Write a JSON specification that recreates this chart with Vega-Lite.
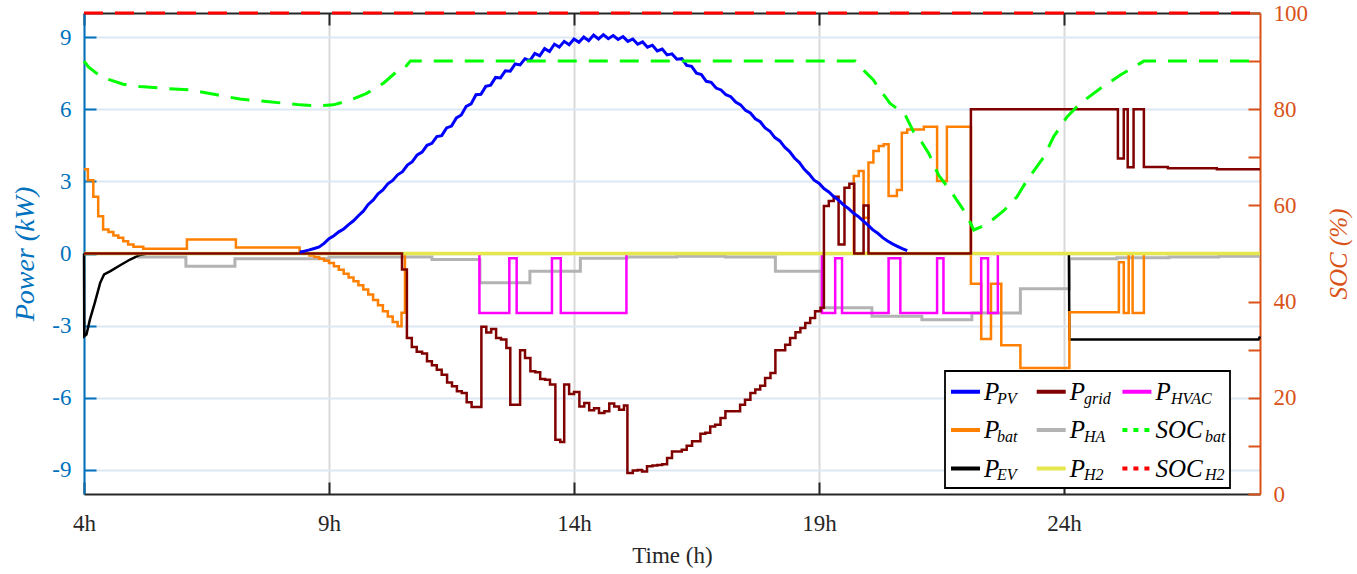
{
  "$schema": "https://vega.github.io/schema/vega-lite/v6.json",
  "width": 1176,
  "height": 481,
  "autosize": {"type": "none"},
  "padding": {"left": 84, "top": 13, "right": 97, "bottom": 80},
  "background": "white",
  "config": {"view": {"stroke": null}, "font": "Liberation Serif"},
  "datasets": {
    "power": [
      {"s":"HA","t":4.0,"v":0},{"s":"HA","t":5.12,"v":-0.15},{"s":"HA","t":6.08,"v":-0.53},{"s":"HA","t":7.08,"v":-0.22},{"s":"HA","t":9.0,"v":-0.15},{"s":"HA","t":11.1,"v":-0.25},{"s":"HA","t":12.08,"v":-1.22},{"s":"HA","t":13.1,"v":-0.74},{"s":"HA","t":14.13,"v":-0.2},{"s":"HA","t":15.08,"v":-0.15},{"s":"HA","t":16.1,"v":-0.11},{"s":"HA","t":17.09,"v":-0.15},{"s":"HA","t":18.11,"v":-0.74},{"s":"HA","t":19.06,"v":-2.26},{"s":"HA","t":20.08,"v":-2.61},{"s":"HA","t":21.1,"v":-2.75},{"s":"HA","t":22.12,"v":-2.47},{"s":"HA","t":23.11,"v":-1.47},{"s":"HA","t":24.11,"v":-0.22},{"s":"HA","t":25.08,"v":-0.18},{"s":"HA","t":26.14,"v":-0.15},{"s":"HA","t":27.16,"v":-0.11},{"s":"HA","t":28.0,"v":-0.11},

      {"s":"EV","t":4.0,"v":0},{"s":"EV","t":4.005,"v":-3.44},{"s":"EV","t":4.05,"v":-3.37},{"s":"EV","t":4.12,"v":-2.75},{"s":"EV","t":4.22,"v":-2.05},{"s":"EV","t":4.33,"v":-1.22},{"s":"EV","t":4.41,"v":-0.87},{"s":"EV","t":4.53,"v":-0.74},{"s":"EV","t":4.73,"v":-0.5},{"s":"EV","t":4.94,"v":-0.25},{"s":"EV","t":5.14,"v":-0.06},{"s":"EV","t":5.3,"v":0},{"s":"EV","t":24.1,"v":0},{"s":"EV","t":24.11,"v":-3.58},{"s":"EV","t":27.97,"v":-3.58},{"s":"EV","t":28.0,"v":-3.45},

      {"s":"bat","t":4.0,"v":3.5},{"s":"bat","t":4.08,"v":3.05},{"s":"bat","t":4.19,"v":2.36},{"s":"bat","t":4.29,"v":1.55},{"s":"bat","t":4.39,"v":1.0},{"s":"bat","t":4.5,"v":0.89},{"s":"bat","t":4.6,"v":0.75},{"s":"bat","t":4.7,"v":0.65},{"s":"bat","t":4.8,"v":0.51},{"s":"bat","t":4.9,"v":0.37},{"s":"bat","t":5.01,"v":0.28},{"s":"bat","t":5.21,"v":0.2},{"s":"bat","t":6.1,"v":0.58},{"s":"bat","t":7.1,"v":0.25},{"s":"bat","t":8.4,"v":0.08},{"s":"bat","t":8.5,"v":0.0},{"s":"bat","t":8.6,"v":-0.08},{"s":"bat","t":8.7,"v":-0.15},{"s":"bat","t":8.8,"v":-0.22},{"s":"bat","t":8.9,"v":-0.3},{"s":"bat","t":9.0,"v":-0.39},{"s":"bat","t":9.1,"v":-0.53},{"s":"bat","t":9.2,"v":-0.68},{"s":"bat","t":9.3,"v":-0.84},{"s":"bat","t":9.4,"v":-1.0},{"s":"bat","t":9.5,"v":-1.15},{"s":"bat","t":9.6,"v":-1.32},{"s":"bat","t":9.7,"v":-1.5},{"s":"bat","t":9.8,"v":-1.7},{"s":"bat","t":9.9,"v":-1.93},{"s":"bat","t":10.0,"v":-2.15},{"s":"bat","t":10.1,"v":-2.4},{"s":"bat","t":10.2,"v":-2.62},{"s":"bat","t":10.3,"v":-2.85},{"s":"bat","t":10.4,"v":-3.02},{"s":"bat","t":10.48,"v":-2.46},{"s":"bat","t":10.55,"v":0},{"s":"bat","t":19.71,"v":3.22},{"s":"bat","t":19.81,"v":3.43},{"s":"bat","t":19.91,"v":1.49},{"s":"bat","t":20.01,"v":3.78},{"s":"bat","t":20.11,"v":4.26},{"s":"bat","t":20.22,"v":4.47},{"s":"bat","t":20.32,"v":4.54},{"s":"bat","t":20.42,"v":2.39},{"s":"bat","t":20.59,"v":2.64},{"s":"bat","t":20.69,"v":5.02},{"s":"bat","t":20.8,"v":5.16},{"s":"bat","t":21.14,"v":5.27},{"s":"bat","t":21.41,"v":3.01},{"s":"bat","t":21.61,"v":5.27},{"s":"bat","t":22.1,"v":-1.26},{"s":"bat","t":22.31,"v":-3.55},{"s":"bat","t":22.51,"v":-1.26},{"s":"bat","t":22.72,"v":-3.82},{"s":"bat","t":23.11,"v":-4.76},{"s":"bat","t":24.11,"v":-2.44},{"s":"bat","t":25.12,"v":-0.36},{"s":"bat","t":25.22,"v":-2.47},{"s":"bat","t":25.32,"v":0},{"s":"bat","t":25.4,"v":-2.47},{"s":"bat","t":25.63,"v":0},{"s":"bat","t":28.0,"v":0},

      {"s":"HVAC","t":4.0,"v":0},{"s":"HVAC","t":12.07,"v":-2.47},{"s":"HVAC","t":12.68,"v":-0.2},{"s":"HVAC","t":12.83,"v":-2.47},{"s":"HVAC","t":13.55,"v":-0.2},{"s":"HVAC","t":13.73,"v":-2.47},{"s":"HVAC","t":15.07,"v":0},{"s":"HVAC","t":19.06,"v":-2.47},{"s":"HVAC","t":19.33,"v":-0.2},{"s":"HVAC","t":19.47,"v":-2.47},{"s":"HVAC","t":20.42,"v":-0.2},{"s":"HVAC","t":20.66,"v":-2.47},{"s":"HVAC","t":21.41,"v":-0.2},{"s":"HVAC","t":21.54,"v":-2.47},{"s":"HVAC","t":22.31,"v":-0.2},{"s":"HVAC","t":22.45,"v":-2.47},{"s":"HVAC","t":22.65,"v":0},{"s":"HVAC","t":28.0,"v":0},

      {"s":"H2","t":4.0,"v":0},{"s":"H2","t":28.0,"v":0},

      {"s":"grid","t":4.0,"v":0},{"s":"grid","t":10.49,"v":-0.67},{"s":"grid","t":10.59,"v":-3.51},{"s":"grid","t":10.69,"v":-3.89},{"s":"grid","t":10.79,"v":-4.09},{"s":"grid","t":10.9,"v":-4.16},{"s":"grid","t":11.0,"v":-4.48},{"s":"grid","t":11.1,"v":-4.65},{"s":"grid","t":11.2,"v":-4.83},{"s":"grid","t":11.3,"v":-5.04},{"s":"grid","t":11.41,"v":-5.36},{"s":"grid","t":11.51,"v":-5.52},{"s":"grid","t":11.61,"v":-5.73},{"s":"grid","t":11.71,"v":-5.8},{"s":"grid","t":11.81,"v":-6.19},{"s":"grid","t":11.91,"v":-6.38},{"s":"grid","t":12.11,"v":-3.05},{"s":"grid","t":12.21,"v":-3.28},{"s":"grid","t":12.31,"v":-3.14},{"s":"grid","t":12.41,"v":-3.51},{"s":"grid","t":12.51,"v":-3.58},{"s":"grid","t":12.62,"v":-3.93},{"s":"grid","t":12.7,"v":-6.29},{"s":"grid","t":12.9,"v":-4.02},{"s":"grid","t":13.0,"v":-4.34},{"s":"grid","t":13.11,"v":-4.9},{"s":"grid","t":13.21,"v":-4.94},{"s":"grid","t":13.31,"v":-5.22},{"s":"grid","t":13.41,"v":-5.25},{"s":"grid","t":13.51,"v":-5.45},{"s":"grid","t":13.62,"v":-7.74},{"s":"grid","t":13.72,"v":-7.84},{"s":"grid","t":13.8,"v":-5.45},{"s":"grid","t":13.9,"v":-5.84},{"s":"grid","t":14.0,"v":-5.76},{"s":"grid","t":14.11,"v":-6.36},{"s":"grid","t":14.21,"v":-6.22},{"s":"grid","t":14.31,"v":-6.52},{"s":"grid","t":14.41,"v":-6.43},{"s":"grid","t":14.51,"v":-6.63},{"s":"grid","t":14.62,"v":-6.56},{"s":"grid","t":14.72,"v":-6.24},{"s":"grid","t":14.82,"v":-6.36},{"s":"grid","t":14.92,"v":-6.5},{"s":"grid","t":15.02,"v":-6.32},{"s":"grid","t":15.09,"v":-9.13},{"s":"grid","t":15.2,"v":-9.02},{"s":"grid","t":15.3,"v":-9.0},{"s":"grid","t":15.39,"v":-9.06},{"s":"grid","t":15.49,"v":-8.85},{"s":"grid","t":15.6,"v":-8.82},{"s":"grid","t":15.7,"v":-8.79},{"s":"grid","t":15.8,"v":-8.76},{"s":"grid","t":15.9,"v":-8.5},{"s":"grid","t":16.0,"v":-8.23},{"s":"grid","t":16.2,"v":-8.16},{"s":"grid","t":16.3,"v":-7.99},{"s":"grid","t":16.41,"v":-7.81},{"s":"grid","t":16.58,"v":-7.49},{"s":"grid","t":16.68,"v":-7.45},{"s":"grid","t":16.78,"v":-7.19},{"s":"grid","t":16.88,"v":-7.12},{"s":"grid","t":16.99,"v":-6.84},{"s":"grid","t":17.09,"v":-6.56},{"s":"grid","t":17.39,"v":-6.29},{"s":"grid","t":17.49,"v":-6.08},{"s":"grid","t":17.6,"v":-5.8},{"s":"grid","t":17.7,"v":-5.66},{"s":"grid","t":17.8,"v":-5.5},{"s":"grid","t":17.9,"v":-5.18},{"s":"grid","t":18.01,"v":-4.97},{"s":"grid","t":18.11,"v":-4.02},{"s":"grid","t":18.31,"v":-3.79},{"s":"grid","t":18.41,"v":-3.51},{"s":"grid","t":18.52,"v":-3.27},{"s":"grid","t":18.62,"v":-3.1},{"s":"grid","t":18.72,"v":-2.89},{"s":"grid","t":18.82,"v":-2.68},{"s":"grid","t":18.92,"v":-2.4},{"s":"grid","t":19.03,"v":-2.26},{"s":"grid","t":19.1,"v":1.97},{"s":"grid","t":19.2,"v":2.18},{"s":"grid","t":19.3,"v":2.36},{"s":"grid","t":19.4,"v":0.37},{"s":"grid","t":19.52,"v":2.73},{"s":"grid","t":19.62,"v":2.9},{"s":"grid","t":19.72,"v":0},{"s":"grid","t":19.91,"v":2.0},{"s":"grid","t":20.01,"v":0},{"s":"grid","t":22.1,"v":6.0},{"s":"grid","t":25.1,"v":3.95},{"s":"grid","t":25.22,"v":6.0},{"s":"grid","t":25.3,"v":3.59},{"s":"grid","t":25.42,"v":6.0},{"s":"grid","t":25.63,"v":3.6},{"s":"grid","t":26.12,"v":3.54},{"s":"grid","t":27.12,"v":3.5},{"s":"grid","t":28.0,"v":3.5},

      {"s":"PV","t":8.4,"v":0.05},{"s":"PV","t":8.5,"v":0.1},{"s":"PV","t":8.6,"v":0.15},{"s":"PV","t":8.7,"v":0.21},{"s":"PV","t":8.8,"v":0.27},{"s":"PV","t":8.9,"v":0.42},{"s":"PV","t":9.0,"v":0.62},{"s":"PV","t":9.1,"v":0.74},{"s":"PV","t":9.2,"v":0.9},{"s":"PV","t":9.3,"v":1.02},{"s":"PV","t":9.4,"v":1.2},{"s":"PV","t":9.5,"v":1.36},{"s":"PV","t":9.6,"v":1.57},{"s":"PV","t":9.7,"v":1.76},{"s":"PV","t":9.8,"v":2.04},{"s":"PV","t":9.9,"v":2.22},{"s":"PV","t":10.0,"v":2.48},{"s":"PV","t":10.1,"v":2.64},{"s":"PV","t":10.2,"v":2.9},{"s":"PV","t":10.3,"v":3.04},{"s":"PV","t":10.4,"v":3.27},{"s":"PV","t":10.5,"v":3.4},{"s":"PV","t":10.6,"v":3.68},{"s":"PV","t":10.7,"v":3.82},{"s":"PV","t":10.8,"v":4.1},{"s":"PV","t":10.9,"v":4.22},{"s":"PV","t":11.0,"v":4.5},{"s":"PV","t":11.1,"v":4.58},{"s":"PV","t":11.2,"v":4.86},{"s":"PV","t":11.3,"v":4.9},{"s":"PV","t":11.4,"v":5.22},{"s":"PV","t":11.5,"v":5.3},{"s":"PV","t":11.6,"v":5.64},{"s":"PV","t":11.7,"v":5.76},{"s":"PV","t":11.8,"v":6.12},{"s":"PV","t":11.9,"v":6.22},{"s":"PV","t":12.0,"v":6.6},{"s":"PV","t":12.1,"v":6.62},{"s":"PV","t":12.2,"v":6.95},{"s":"PV","t":12.3,"v":7.0},{"s":"PV","t":12.4,"v":7.32},{"s":"PV","t":12.5,"v":7.3},{"s":"PV","t":12.6,"v":7.6},{"s":"PV","t":12.7,"v":7.58},{"s":"PV","t":12.8,"v":7.88},{"s":"PV","t":12.9,"v":7.84},{"s":"PV","t":13.0,"v":8.1},{"s":"PV","t":13.1,"v":8.02},{"s":"PV","t":13.2,"v":8.32},{"s":"PV","t":13.3,"v":8.22},{"s":"PV","t":13.4,"v":8.52},{"s":"PV","t":13.5,"v":8.4},{"s":"PV","t":13.6,"v":8.7},{"s":"PV","t":13.7,"v":8.58},{"s":"PV","t":13.8,"v":8.82},{"s":"PV","t":13.9,"v":8.68},{"s":"PV","t":14.0,"v":8.92},{"s":"PV","t":14.1,"v":8.78},{"s":"PV","t":14.2,"v":9.0},{"s":"PV","t":14.3,"v":8.85},{"s":"PV","t":14.4,"v":9.08},{"s":"PV","t":14.5,"v":8.92},{"s":"PV","t":14.6,"v":9.1},{"s":"PV","t":14.7,"v":8.93},{"s":"PV","t":14.8,"v":9.06},{"s":"PV","t":14.9,"v":8.9},{"s":"PV","t":15.0,"v":9.02},{"s":"PV","t":15.1,"v":8.82},{"s":"PV","t":15.2,"v":8.92},{"s":"PV","t":15.3,"v":8.7},{"s":"PV","t":15.4,"v":8.8},{"s":"PV","t":15.5,"v":8.58},{"s":"PV","t":15.6,"v":8.66},{"s":"PV","t":15.7,"v":8.42},{"s":"PV","t":15.8,"v":8.5},{"s":"PV","t":15.9,"v":8.26},{"s":"PV","t":16.0,"v":8.3},{"s":"PV","t":16.1,"v":8.08},{"s":"PV","t":16.2,"v":8.1},{"s":"PV","t":16.3,"v":7.82},{"s":"PV","t":16.4,"v":7.78},{"s":"PV","t":16.5,"v":7.5},{"s":"PV","t":16.6,"v":7.44},{"s":"PV","t":16.7,"v":7.16},{"s":"PV","t":16.8,"v":7.12},{"s":"PV","t":16.9,"v":6.88},{"s":"PV","t":17.0,"v":6.8},{"s":"PV","t":17.1,"v":6.6},{"s":"PV","t":17.2,"v":6.52},{"s":"PV","t":17.3,"v":6.3},{"s":"PV","t":17.4,"v":6.18},{"s":"PV","t":17.5,"v":5.95},{"s":"PV","t":17.6,"v":5.84},{"s":"PV","t":17.7,"v":5.6},{"s":"PV","t":17.8,"v":5.48},{"s":"PV","t":17.9,"v":5.22},{"s":"PV","t":18.0,"v":5.08},{"s":"PV","t":18.1,"v":4.82},{"s":"PV","t":18.2,"v":4.68},{"s":"PV","t":18.3,"v":4.42},{"s":"PV","t":18.4,"v":4.24},{"s":"PV","t":18.5,"v":3.97},{"s":"PV","t":18.6,"v":3.78},{"s":"PV","t":18.7,"v":3.5},{"s":"PV","t":18.8,"v":3.3},{"s":"PV","t":18.9,"v":3.05},{"s":"PV","t":19.0,"v":2.92},{"s":"PV","t":19.1,"v":2.7},{"s":"PV","t":19.2,"v":2.56},{"s":"PV","t":19.3,"v":2.37},{"s":"PV","t":19.4,"v":2.22},{"s":"PV","t":19.5,"v":2.02},{"s":"PV","t":19.6,"v":1.87},{"s":"PV","t":19.7,"v":1.68},{"s":"PV","t":19.8,"v":1.54},{"s":"PV","t":19.9,"v":1.36},{"s":"PV","t":20.0,"v":1.18},{"s":"PV","t":20.1,"v":0.98},{"s":"PV","t":20.2,"v":0.84},{"s":"PV","t":20.3,"v":0.66},{"s":"PV","t":20.4,"v":0.52},{"s":"PV","t":20.5,"v":0.4},{"s":"PV","t":20.6,"v":0.3},{"s":"PV","t":20.7,"v":0.2},{"s":"PV","t":20.8,"v":0.12},

      {"s":"SOCbat","t":4.0,"v":90},{"s":"SOCbat","t":4.09,"v":88.8},{"s":"SOCbat","t":4.33,"v":86.9},{"s":"SOCbat","t":4.53,"v":86.1},{"s":"SOCbat","t":4.8,"v":85.2},{"s":"SOCbat","t":5.14,"v":84.7},{"s":"SOCbat","t":5.69,"v":84.3},{"s":"SOCbat","t":6.16,"v":84.0},{"s":"SOCbat","t":6.71,"v":83.0},{"s":"SOCbat","t":7.18,"v":82.1},{"s":"SOCbat","t":7.73,"v":81.6},{"s":"SOCbat","t":8.41,"v":80.9},{"s":"SOCbat","t":8.82,"v":80.7},{"s":"SOCbat","t":9.09,"v":80.9},{"s":"SOCbat","t":9.43,"v":81.9},{"s":"SOCbat","t":9.77,"v":83.3},{"s":"SOCbat","t":10.11,"v":85.4},{"s":"SOCbat","t":10.38,"v":87.8},{"s":"SOCbat","t":10.52,"v":88.3},{"s":"SOCbat","t":10.66,"v":90},{"s":"SOCbat","t":19.74,"v":90},{"s":"SOCbat","t":19.91,"v":88.1},{"s":"SOCbat","t":20.11,"v":86.1},{"s":"SOCbat","t":20.22,"v":84.3},{"s":"SOCbat","t":20.35,"v":82.6},{"s":"SOCbat","t":20.45,"v":81.2},{"s":"SOCbat","t":20.52,"v":80.7},{"s":"SOCbat","t":20.76,"v":78.8},{"s":"SOCbat","t":20.93,"v":75.3},{"s":"SOCbat","t":21.07,"v":73.6},{"s":"SOCbat","t":21.24,"v":70.8},{"s":"SOCbat","t":21.44,"v":66.3},{"s":"SOCbat","t":21.72,"v":62.5},{"s":"SOCbat","t":21.99,"v":58.4},{"s":"SOCbat","t":22.16,"v":54.9},{"s":"SOCbat","t":22.43,"v":56.1},{"s":"SOCbat","t":22.77,"v":58.9},{"s":"SOCbat","t":23.04,"v":61.8},{"s":"SOCbat","t":23.25,"v":65.3},{"s":"SOCbat","t":23.59,"v":70.1},{"s":"SOCbat","t":23.79,"v":74.3},{"s":"SOCbat","t":24.06,"v":78.4},{"s":"SOCbat","t":24.33,"v":81.2},{"s":"SOCbat","t":24.74,"v":84.3},{"s":"SOCbat","t":25.15,"v":87.1},{"s":"SOCbat","t":25.63,"v":90},{"s":"SOCbat","t":28.0,"v":90},

      {"s":"SOCH2","t":4.0,"v":100},{"s":"SOCH2","t":28.0,"v":100}
    ]
  },
  "layer": [
    {
      "layer": [
        {
          "data": {"name": "power"},
          "transform": [{"filter": "datum.s === 'HA'"}],
          "mark": {"type": "line", "interpolate": "step-after", "strokeWidth": 3},
          "encoding": {
            "x": {
              "field": "t", "type": "quantitative",
              "scale": {"domain": [4, 28], "nice": false, "zero": false},
              "axis": {
                "values": [4, 9, 14, 19, 24], "labelExpr": "datum.value + 'h'", "labelFlush": false, "labelOverlap": false,
                "title": "Time (h)", "titleFont": "Liberation Serif", "titleFontSize": 23, "titleFontWeight": "normal", "titleColor": "#262626",
                "titleY": 61, "titleBaseline": "middle",
                "grid": true, "gridColor": "#d9d9d9", "gridWidth": 2,
                "domainColor": "#262626", "domainWidth": 2,
                "tickColor": "#262626", "tickWidth": 2, "tickSize": -12,
                "labelColor": "#262626", "labelFont": "Liberation Serif", "labelFontSize": 23, "labelPadding": 30
              }
            },
            "y": {
              "field": "v", "type": "quantitative",
              "scale": {"domain": [-10, 10], "nice": false, "zero": false},
              "axis": {
                "values": [-9, -6, -3, 0, 3, 6, 9], "labelExpr": "'' + datum.value",
                "title": "Power (kW)", "titleFont": "Liberation Serif", "titleFontStyle": "italic", "titleFontWeight": "normal", "titleFontSize": 28, "titleColor": "#0072BD",
                "titleX": -59, "titleY": 240.5, "titleBaseline": "middle",
                "grid": true, "gridColor": "#dbe7f3", "gridWidth": 2,
                "domainColor": "#0072BD", "domainWidth": 2,
                "tickColor": "#0072BD", "tickWidth": 2, "tickSize": -12,
                "labelColor": "#0072BD", "labelFont": "Liberation Serif", "labelFontSize": 23, "labelPadding": 25
              }
            },
            "color": {
              "field": "s", "type": "nominal",
              "sort": ["PV", "bat", "EV", "grid", "HA", "H2", "HVAC", "SOCbat", "SOCH2"],
              "scale": {"range": ["#0000ff", "#ff8000", "#000000", "#800000", "#b3b3b3", "#e6e64d", "#ff00ff", "#00ff00", "#ff0000"]},
              "legend": {
                "orient": "none", "legendX": 861, "legendY": 358, "columns": 3, "gridAlign": "each", "title": null,
                "symbolType": "stroke", "symbolSize": 841, "symbolStrokeWidth": 4,
                "labelFont": "Liberation Serif", "labelFontStyle": "italic", "labelFontSize": 25, "labelColor": "black", "labelOffset": 2,
                "labelExpr": "indexof(['SOCbat','SOCH2'], datum.value) >= 0 ? 'SOC' : 'P'",
                "columnPadding": 28.7, "rowPadding": 8.5, "padding": 4, "zindex": 2,
                "encode": {
                  "symbols": {
                    "update": {
                      "strokeWidth": {"value": 4},
                      "strokeDash": {"signal": "indexof(['SOCbat','SOCH2'], datum.value) >= 0 ? [5,6] : [1,0]"}
                    }
                  }
                }
              }
            }
          }
        },
        {
          "data": {"name": "power"},
          "transform": [{"filter": "datum.s === 'EV'"}],
          "mark": {"type": "line", "strokeWidth": 2.5},
          "encoding": {
            "x": {"field": "t", "type": "quantitative"},
            "y": {"field": "v", "type": "quantitative"},
            "color": {"field": "s", "type": "nominal", "sort": ["PV", "bat", "EV", "grid", "HA", "H2", "HVAC", "SOCbat", "SOCH2"]}
          }
        },
        {
          "data": {"name": "power"},
          "transform": [{"filter": "datum.s === 'bat'"}],
          "mark": {"type": "line", "interpolate": "step-after", "strokeWidth": 2.5},
          "encoding": {
            "x": {"field": "t", "type": "quantitative"},
            "y": {"field": "v", "type": "quantitative"},
            "color": {"field": "s", "type": "nominal", "sort": ["PV", "bat", "EV", "grid", "HA", "H2", "HVAC", "SOCbat", "SOCH2"]}
          }
        },
        {
          "data": {"name": "power"},
          "transform": [{"filter": "datum.s === 'HVAC'"}],
          "mark": {"type": "line", "interpolate": "step-after", "strokeWidth": 2.5},
          "encoding": {
            "x": {"field": "t", "type": "quantitative"},
            "y": {"field": "v", "type": "quantitative"},
            "color": {"field": "s", "type": "nominal", "sort": ["PV", "bat", "EV", "grid", "HA", "H2", "HVAC", "SOCbat", "SOCH2"]}
          }
        },
        {
          "data": {"name": "power"},
          "transform": [{"filter": "datum.s === 'H2'"}],
          "mark": {"type": "line", "strokeWidth": 3.5},
          "encoding": {
            "x": {"field": "t", "type": "quantitative"},
            "y": {"field": "v", "type": "quantitative"},
            "color": {"field": "s", "type": "nominal", "sort": ["PV", "bat", "EV", "grid", "HA", "H2", "HVAC", "SOCbat", "SOCH2"]}
          }
        },
        {
          "data": {"name": "power"},
          "transform": [{"filter": "datum.s === 'grid'"}],
          "mark": {"type": "line", "interpolate": "step-after", "strokeWidth": 2.5},
          "encoding": {
            "x": {"field": "t", "type": "quantitative"},
            "y": {"field": "v", "type": "quantitative"},
            "color": {"field": "s", "type": "nominal", "sort": ["PV", "bat", "EV", "grid", "HA", "H2", "HVAC", "SOCbat", "SOCH2"]}
          }
        },
        {
          "data": {"name": "power"},
          "transform": [{"filter": "datum.s === 'PV'"}],
          "mark": {"type": "line", "strokeWidth": 3},
          "encoding": {
            "x": {"field": "t", "type": "quantitative"},
            "y": {"field": "v", "type": "quantitative"},
            "color": {"field": "s", "type": "nominal", "sort": ["PV", "bat", "EV", "grid", "HA", "H2", "HVAC", "SOCbat", "SOCH2"]}
          }
        }
      ]
    },
    {
      "layer": [
        {
          "data": {"name": "power"},
          "transform": [{"filter": "datum.s === 'SOCbat'"}],
          "mark": {"type": "line", "strokeWidth": 3},
          "encoding": {
            "x": {
              "field": "t", "type": "quantitative",
              "scale": {"domain": [4, 28], "nice": false, "zero": false},
              "axis": {
                "orient": "top", "values": [4, 9, 14, 19, 24], "labels": false, "title": null, "grid": false,
                "domainColor": "#262626", "domainWidth": 2, "tickColor": "#262626", "tickWidth": 2, "tickSize": -12
              }
            },
            "y": {
              "field": "v", "type": "quantitative",
              "scale": {"domain": [0, 100], "nice": false, "zero": false},
              "axis": {
                "orient": "right", "values": [0, 10, 20, 30, 40, 50, 60, 70, 80, 90, 100],
                "labelExpr": "datum.value % 20 === 0 ? '' + datum.value : ''", "labelOverlap": false,
                "title": "SOC (%)", "titleFont": "Liberation Serif", "titleFontStyle": "italic", "titleFontWeight": "normal", "titleFontSize": 25, "titleColor": "#D95319",
                "titleX": 78, "titleY": 240.5, "titleBaseline": "middle", "titleAngle": -90,
                "grid": false,
                "domainColor": "#D95319", "domainWidth": 2,
                "tickColor": "#D95319", "tickWidth": 2, "tickSize": -12,
                "labelColor": "#D95319", "labelFont": "Liberation Serif", "labelFontSize": 23, "labelPadding": 25
              }
            },
            "color": {"field": "s", "type": "nominal", "sort": ["PV", "bat", "EV", "grid", "HA", "H2", "HVAC", "SOCbat", "SOCH2"]},
            "strokeDash": {
              "field": "s", "type": "nominal",
              "scale": {
                "domain": ["PV", "bat", "EV", "grid", "HA", "H2", "HVAC", "SOCbat", "SOCH2"],
                "range": [[1, 0], [1, 0], [1, 0], [1, 0], [1, 0], [1, 0], [1, 0], [19, 12], [19, 12]]
              },
              "legend": {
                "orient": "none", "legendX": 861, "legendY": 358, "columns": 3, "gridAlign": "each", "title": null,
                "symbolType": "M-1,-0.758H4.27V0.97H-1Z", "symbolSize": 1089, "symbolStrokeWidth": 0, "symbolOpacity": 0,
                "symbolFillColor": "transparent", "symbolStrokeColor": "transparent",
                "labelFont": "Liberation Serif", "labelFontStyle": "italic", "labelFontSize": 16, "labelColor": "black", "labelOffset": 2,
                "labelExpr": "datum.value === 'SOCbat' ? 'bat' : datum.value === 'SOCH2' ? 'H2' : datum.value",
                "columnPadding": 0, "rowPadding": 5, "padding": 4,
                "fillColor": "white", "strokeColor": "black", "zindex": 1,
                "encode": {
                  "legend": {"update": {"strokeWidth": {"value": 1.8}}},
                  "symbols": {"update": {"opacity": {"value": 0}}},
                  "labels": {
                    "update": {
                      "dx": {"signal": "indexof(['SOCbat','SOCH2'], datum.value) >= 0 ? 47 : 13"},
                      "dy": {"value": 7.7}
                    }
                  }
                }
              }
            }
          }
        },
        {
          "data": {"name": "power"},
          "transform": [{"filter": "datum.s === 'SOCH2'"}],
          "mark": {"type": "line", "strokeWidth": 3},
          "encoding": {
            "x": {"field": "t", "type": "quantitative"},
            "y": {"field": "v", "type": "quantitative"},
            "color": {"field": "s", "type": "nominal", "sort": ["PV", "bat", "EV", "grid", "HA", "H2", "HVAC", "SOCbat", "SOCH2"]},
            "strokeDash": {"field": "s", "type": "nominal"}
          }
        }
      ]
    }
  ],
  "resolve": {"scale": {"y": "independent"}, "axis": {"x": "independent", "y": "independent"}}
}
